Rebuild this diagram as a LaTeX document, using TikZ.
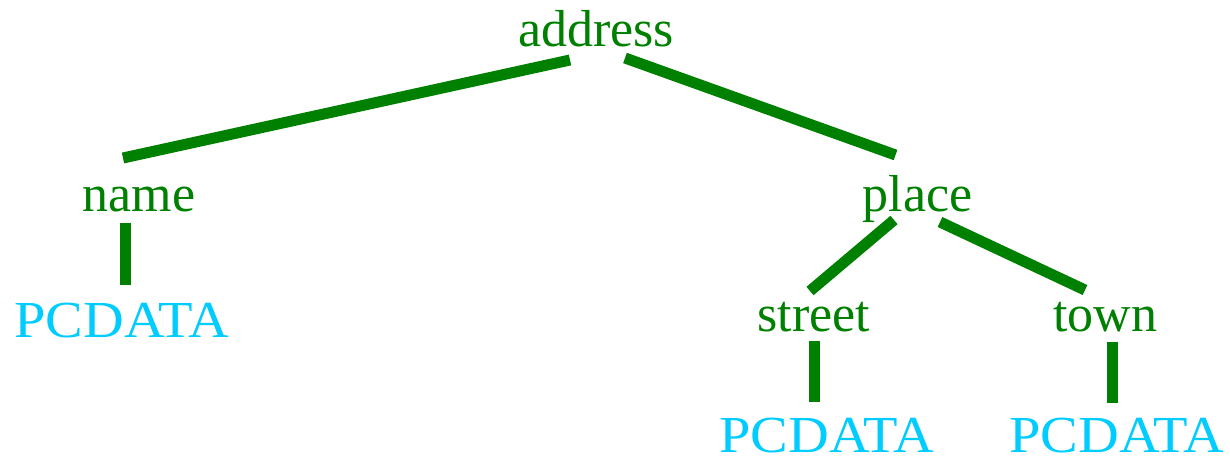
\documentclass[tikz,border=0pt]{standalone}
\usepackage{fontspec}
\setmainfont{Liberation Serif}
\usetikzlibrary{calc}
\definecolor{elemgreen}{RGB}{0,128,0}
\definecolor{datacyan}{RGB}{0,204,255}
\newcommand{\widetext}[1]{\scalebox{1.085}[1]{#1}}
\tikzset{
  elem/.style={anchor=base, inner sep=0pt, text=elemgreen, font=\fontsize{52}{60}\selectfont},
  pcdata/.style={anchor=base, inner sep=0pt, text=datacyan, font=\fontsize{52}{60}\selectfont},
  edge/.style={draw=elemgreen, line width=11pt, line cap=butt}
}
\begin{document}
\begin{tikzpicture}[x=1pt, y=-1pt]
  \useasboundingbox (0,0) rectangle (1230,457);
  % element names
  \node[elem] (address) at (596,47) {address};
  \node[elem] (name) at (139,211) {name};
  \node[elem] (place) at (917.5,211) {place};
  \node[elem] (street) at (814,331) {street};
  \node[elem] (town) at (1105,331) {town};
  % character data leaves
  \node[pcdata] (pc1) at (122,337) {\widetext{PCDATA}};
  \node[pcdata] (pc2) at (827,452) {\widetext{PCDATA}};
  \node[pcdata] (pc3) at (1117,452) {\widetext{PCDATA}};
  % tree edges
  \draw[edge] ($(address.base)+(-26,13)$) -- ($(name.base)+(-16,-53)$);
  \draw[edge] ($(address.base)+(29,11)$) -- ($(place.base)+(-22,-56)$);
  \draw[edge] ($(name.base)+(-14,12)$) -- ($(pc1.base)+(3,-52)$);
  \draw[edge] ($(place.base)+(-23.5,9)$) -- ($(street.base)+(-4,-40)$);
  \draw[edge] ($(place.base)+(22.5,11)$) -- ($(town.base)+(-20,-41)$);
  \draw[edge] ($(street.base)+(0.5,10)$) -- ($(pc2.base)+(-12.5,-50)$);
  \draw[edge] ($(town.base)+(7,11)$) -- ($(pc3.base)+(-5,-49)$);
\end{tikzpicture}
\end{document}
